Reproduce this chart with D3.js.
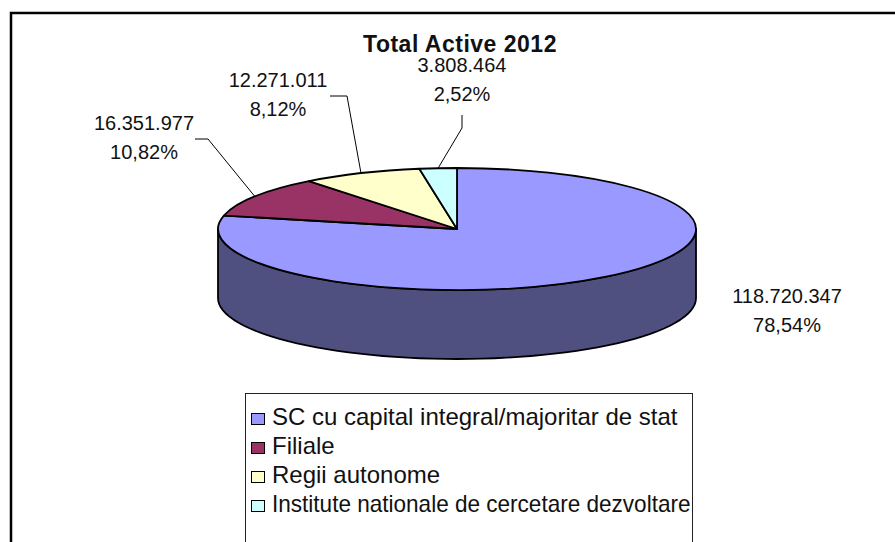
<!DOCTYPE html>
<html>

<head>
    <meta charset="utf-8">
    <title>Total Active 2012</title>
    <style type="text/css">
    body {
        margin: 0;
        background: #fff;
    }

    text {
        font-family: "Liberation Sans", Arial, sans-serif;
        fill: #111;
    }

    .title {
        font-weight: bold;
        font-size: 23px;
        letter-spacing: 0.5px;
    }

    .lbl {
        font-size: 20px;
    }

    .legend text {
        font-size: 24px;
    }
    </style>
</head>

<body>
    <svg class="chart" width="895" height="542"></svg>
    <script src="https://d3js.org/d3.v7.min.js"></script>
    <script type="text/javascript">
    // data
    var categories = ["SC cu capital integral/majoritar de stat", "Filiale", "Regii autonome", "Institute nationale de cercetare dezvoltare"];
    var values = [118720347, 16351977, 12271011, 3808464];
    var topColors = ["#9999ff", "#993366", "#ffffcc", "#ccffff"];
    var sideColors = ["#4f4f80", "#4d1a33", "#80806a", "#6a8080"];

    // label layout: centre x, first baseline, leader elbow points (null = no leader)
    var labelPos = [
        { x: 787, y: 303, leader: null },
        { x: 144, y: 130, leader: [[195, 139], [208, 139]] },
        { x: 278, y: 87, leader: [[330, 96], [347, 96]] },
        { x: 462, y: 72, leader: [[462, 115], [462, 128]] }
    ];

    var svg = d3.select("svg"),
        cx = 457, cy = 229, rx = 239, ry = 61, depth = 69;

    var ro = d3.formatLocale({ decimal: ",", thousands: ".", grouping: [3], currency: ["", ""] }),
        fmtNum = ro.format(",d"),
        fmtPct = ro.format(".2%"),
        total = d3.sum(values);

    // outer frame (cut by the picture edges)
    svg.append("rect")
        .attr("x", 11).attr("y", 13)
        .attr("width", 920).attr("height", 560)
        .attr("fill", "none")
        .attr("stroke", "#000")
        .attr("stroke-width", 2.5);

    svg.append("text")
        .attr("class", "title")
        .attr("x", 460).attr("y", 52)
        .attr("text-anchor", "middle")
        .text("Total Active 2012");

    var pie = d3.pie().sort(null).value(function(d) { return d; });
    var arcs = pie(values);

    function pt(a, dy) {
        return [cx + rx * Math.sin(a), cy - ry * Math.cos(a) + (dy || 0)];
    }

    // side walls (front half only)
    var line = d3.line();
    arcs.forEach(function(d, i) {
        var a0 = Math.max(d.startAngle, Math.PI / 2),
            a1 = Math.min(d.endAngle, 3 * Math.PI / 2);
        if (a1 <= a0) return;
        var steps = d3.range(0, 61).map(function(k) { return a0 + (a1 - a0) * k / 60; });
        var pts = steps.map(function(a) { return pt(a); })
            .concat(steps.slice().reverse().map(function(a) { return pt(a, depth); }));
        svg.append("path")
            .attr("d", line(pts) + "Z")
            .attr("fill", sideColors[i])
            .attr("stroke", "#000")
            .attr("stroke-width", 1.8)
            .attr("stroke-linejoin", "round");
    });

    // top face
    var arc = d3.arc().innerRadius(0).outerRadius(rx);
    svg.append("g")
        .attr("transform", "translate(" + cx + "," + cy + ") scale(1," + (ry / rx) + ")")
        .selectAll("path")
        .data(arcs)
        .enter().append("path")
        .attr("d", arc)
        .attr("fill", function(d, i) { return topColors[i]; })
        .attr("stroke", "#000")
        .attr("stroke-width", 1.8)
        .attr("stroke-linejoin", "round")
        .attr("vector-effect", "non-scaling-stroke");

    // leader lines + labels
    arcs.forEach(function(d, i) {
        var L = labelPos[i];
        if (L.leader) {
            var mid = (d.startAngle + d.endAngle) / 2;
            svg.append("path")
                .attr("d", line(L.leader.concat([pt(mid)])))
                .attr("fill", "none")
                .attr("stroke", "#000")
                .attr("stroke-width", 1);
        }
        var t = svg.append("text")
            .attr("class", "lbl")
            .attr("text-anchor", "middle");
        t.append("tspan").attr("x", L.x).attr("y", L.y).text(fmtNum(values[i]));
        t.append("tspan").attr("x", L.x).attr("y", L.y + 29).text(fmtPct(values[i] / total));
    });

    // legend
    var lx = 245.5, lw = 447, textX = 272;
    var legend = svg.append("g").attr("class", "legend");
    legend.append("rect")
        .attr("x", lx).attr("y", 393.5)
        .attr("width", lw).attr("height", 170)
        .attr("fill", "#fff")
        .attr("stroke", "#222")
        .attr("stroke-width", 1);

    var item = legend.selectAll("g.item")
        .data(categories)
        .enter().append("g")
        .attr("class", "item")
        .attr("transform", function(d, i) { return "translate(0," + (425 + i * 29) + ")"; });

    item.append("rect")
        .attr("x", 251.5).attr("y", -11.5)
        .attr("width", 13).attr("height", 11)
        .attr("fill", function(d, i) { return topColors[i]; })
        .attr("stroke", "#000")
        .attr("stroke-width", 1);

    item.append("text")
        .attr("x", textX).attr("y", 0)
        .text(function(d) { return d; })
        .each(function() {
            // squeeze an entry that would run past the legend border
            var maxW = lx + lw - textX - 2;
            if (this.getComputedTextLength() > maxW) {
                d3.select(this).attr("textLength", maxW).attr("lengthAdjust", "spacingAndGlyphs");
            }
        });
    </script>
</body>

</html>
